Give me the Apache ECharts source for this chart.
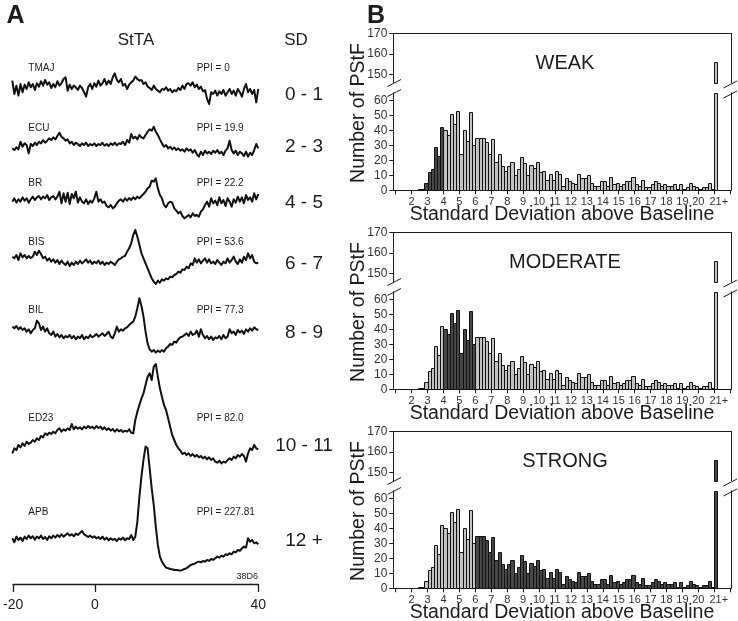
<!DOCTYPE html>
<html><head><meta charset="utf-8">
<script src="https://cdn.jsdelivr.net/npm/echarts@6/dist/echarts.min.js"></script>
<style>html,body{margin:0;padding:0;background:#fff}#c{width:738px;height:621px}</style>
</head><body><div id="c"></div>
<script>
// ---------------- DATA ----------------
// Panel A: spike-triggered averages, amplitude (arbitrary units, up = positive), sampled every 0.5 ms from -20 to 40 ms
const timeStartMs = -20, timeStepMs = 0.5;
const traceNames = ['TMAJ','ECU','BR','BIS','BIL','ED23','APB'];
const ppiLabels = ['PPI = 0','PPI = 19.9','PPI = 22.2','PPI = 53.6','PPI = 77.3','PPI = 82.0','PPI = 227.81'];
const sdGroupLabels = ['0 - 1','2 - 3','4 - 5','6 - 7','8 - 9','10 - 11','12 +'];
const timeTickValues = [-20, 0, 40];
const tmaj = [20,-20,5,-25,10,-15,8,-5,15,0, 10,-8,12,2,18,5,22,8,15,-2, 10,0,18,5,12,25,30,-10,8,-5,
 5,0,-8,5,-2,-15,-28,0,10,-5, 12,2,20,5,12,25,8,20,10,30, 42,22,15,25,5,10,-5,8,15,20,
 32,25,20,22,10,15,2,-2,-8,5, -5,-10,-15,-5,-8,0,-10,-5,-15,-8, -12,-2,-8,5,-5,10,12,5,15,0,
 8,-5,2,-12,-8,-35,-50,-15,-20,-10, -25,-12,-20,-8,-25,-15,-5,-20,-10,-25, -5,-15,-28,-5,10,-15,-5,-20,-8,-45, -5];
const ecu = [-5,-10,-2,-8,15,0,10,5,-20,8, 2,12,5,15,10,20,12,18,25,20, 28,22,32,42,30,25,18,22,10,15,
 5,12,8,2,10,5,12,2,8,4, 10,2,8,5,12,3,8,2,10,5, 12,4,10,8,15,5,20,12,38,25,
 30,22,35,28,25,35,45,52,48,60, 45,35,22,10,0,5,-5,0,-8,-2, -10,-5,-12,-8,-15,-5,-12,-8,-18,-10,
 -22,-30,-15,-25,-12,-20,-15,-22,-12,-18, -10,-20,-15,-25,-12,-5,18,-10,-20,-12, -25,-15,-20,-28,-15,-30,-18,-25,-10,8, -5];
const br = [-5,5,-8,2,-5,8,-2,5,-8,2, 10,0,8,12,2,10,5,15,0,8, 12,2,10,25,-10,20,-5,22,-12,18,
 5,25,-8,8,-5,-10,2,-12,-2,-8, 5,25,-5,2,-8,-5,-18,-22,-15,-25, -20,-10,-2,2,-5,5,-2,6,0,8,
 2,10,5,12,18,25,35,40,58,55, 65,35,15,5,-15,-22,-10,-5,-8,-25, -32,-40,-35,-48,-55,-50,-45,-52,-40,-48,
 -45,-50,-35,-28,-15,-5,-20,5,-10,-2, -15,8,-10,0,-18,5,-5,-20,2,-8, 10,-5,8,-10,15,0,8,-5,20,2, 18];
const bis = [10,5,15,0,20,8,15,5,12,6, 10,25,15,28,18,5,10,-2,5,-5, 2,-8,0,-12,-2,-10,-15,-5,-18,-8,
 -15,-5,-12,-2,-10,-5,2,-8,-2,-12, -5,-10,-2,-12,-5,-15,-8,-12,-5,-10, -15,-5,2,5,10,12,25,35,50,75,
 90,70,45,20,5,-10,-25,-40,-55,-65, -72,-62,-68,-58,-62,-55,-58,-50,-52,-45, -42,-35,-38,-28,-30,-20,-25,-10,-15,5,
 -8,2,-10,-2,5,-8,2,-10,-5,-12, 0,-8,-15,-5,-10,5,-8,0,10,-5, -12,2,-8,10,0,20,5,15,-5,-10, -8];
const bil = [20,15,22,12,18,10,15,5,12,0, 10,15,38,30,10,20,5,15,0,-5, 5,-10,-2,-12,-5,-15,-8,-12,-5,-15,
 -8,-18,-10,-15,-5,-18,-10,-15,-5,-12, -8,-2,-10,-5,0,-8,-2,5,-10,-15, 0,20,5,12,8,15,18,25,30,35,
 50,75,105,82,50,5,-30,-48,-55,-50, -58,-52,-56,-50,-55,-45,-40,-32,-35,-25, -28,-18,-12,-10,-5,0,-8,5,-5,-2,
 8,-10,12,-5,-15,-8,-18,-10,-20,-12, -15,-8,-18,-5,-15,-10,12,0,5,-5, 10,2,8,-2,12,5,15,8,18,12, 10];
const ed23 = [-70,-55,-60,-45,-52,-40,-48,-35,-42,-38, -30,-35,-25,-30,-18,-22,-10,-15,-8,-12, -5,-10,0,5,-5,2,-2,5,0,18,
 2,10,4,8,2,10,5,12,6,10, 4,12,6,10,2,8,0,5,-2,3, -5,2,-4,0,-6,-2,-5,2,-8,-10,
 30,55,75,95,110,135,160,170,150,190, 198,160,125,100,75,60,35,10,-15,-30, -45,-55,-62,-72,-68,-75,-70,-78,-72,-80,
 -75,-82,-78,-85,-80,-88,-82,-90,-85,-95, -98,-92,-100,-95,-98,-90,-85,-90,-80,-85, -75,-80,-72,-78,-95,-70,-55,-60,-45,-55, -58];
const apb = [0,-12,5,-5,2,-8,5,-2,8,0, 6,-4,5,0,8,-2,4,-5,6,0, 8,2,10,4,12,5,10,15,8,12,
 6,14,10,16,22,12,8,4,8,2, 6,0,4,-2,5,-4,2,-6,0,-5, -2,-8,0,-4,2,-6,0,-2,10,-5,
 5,50,125,185,235,275,270,210,150,100, 35,-20,-55,-70,-80,-88,-90,-92,-93,-95, -95,-96,-97,-95,-92,-90,-85,-80,-78,-76,
 -72,-70,-72,-68,-70,-65,-68,-62,-65,-60, -55,-58,-52,-55,-48,-50,-45,-48,-40,-42, -35,-38,-30,-25,-28,0,-10,-5,-15,-12, -18];

// Panel B: number of PStF per 0.2-SD bin, bins starting at 2.0 up to 20.8, plus the 21+ bin
const binStartSD = 2.0, binWidthSD = 0.2;
const pstfCounts = [0,0,1,1,5, 12,14,29,23,42, 40,37,51,44,53, 24,40,33,52,30, 35,35,35,32,24,
 34,19,24,16,13, 16,19,10,14,22, 18,10,17,15,19, 12,13,7,11,7, 13,11,3,8,6,
 5,4,11,8,8, 10,5,3,3,6, 6,3,9,4,5, 3,4,6,6,9, 4,3,7,2,2,
 4,6,5,3,4, 3,3,4,1,4, 1,2,5,3,2, 1,2,2,5,1];
const overflowStartSD = 21, overflowCount = 156;
const sdTickLabels = [2,3,4,5,6,7,8,9,10,11,12,13,14,15,16,17,18,19,20,21];
const sdTickMarks = [1,2,3,4,5,6,7,8,9,10,11,12,13,14,15,16,17,18,19,20,21,22];
const panelTitles = ['WEAK','MODERATE','STRONG'];
const highlightRanges = [[0,4],[4,6],[6,100]];
const lowerYTicks = [0,10,20,30,40,50,60];
const upperYTicks = [150,160,170];

// ---------------- LAYOUT / STYLE ----------------
const FONT = "'Liberation Sans', Arial, Helvetica, sans-serif";
const INK = '#1c1c1c';
const LIGHT = '#c2c2c2', DARK = '#474747';
const grids = [], xAxes = [], yAxes = [], series = [], els = [];

function txt(x, y, s, size, opts) {
  opts = opts || {};
  els.push(Object.assign({type:'text', x:x, y:y, silent:true, style:{
    text:s, fill:INK, font:(opts.bold?'bold ':'')+size+'px '+FONT,
    textAlign:opts.align||'center', textVerticalAlign:'middle', align:opts.align||'center', verticalAlign:'middle'}},
    opts.rotation!==undefined?{rotation:opts.rotation}:{}));
}
function seg(x1,y1,x2,y2,w){ els.push({type:'line', silent:true, shape:{x1,y1,x2,y2}, style:{stroke:INK, lineWidth:w||1}}); }

// Panel A
const A_LEFT = 12.3, A_WIDTH = 246, A_UNITS_PER_PX = 3;
const traceArrays = [tmaj, ecu, br, bis, bil, ed23, apb];
const traceBaseY = [87.3, 146.7, 200, 260, 333.3, 430, 538.3];
const traceUpPx = [80, 95, 95, 95, 95, 95, 95], traceDownPx = 40;
const labelY = [68.3, 128.3, 183.3, 242.3, 310.5, 418.3, 512.7];
const sdY = [95, 147, 203, 264, 333, 446, 541];
traceArrays.forEach((arr, i) => {
  const gi = grids.length;
  grids.push({left:A_LEFT, top:traceBaseY[i]-traceUpPx[i], width:A_WIDTH, height:traceUpPx[i]+traceDownPx});
  xAxes.push({gridIndex:gi, type:'value', min:-20, max:40, show:false});
  yAxes.push({gridIndex:gi, type:'value', min:-traceDownPx*A_UNITS_PER_PX, max:traceUpPx[i]*A_UNITS_PER_PX, show:false});
  series.push({type:'line', xAxisIndex:gi, yAxisIndex:gi, symbol:'none', silent:true, animation:false, clip:false,
    data: arr.map((v,k)=>[timeStartMs + k*timeStepMs, v]),
    lineStyle:{color:'#111', width:2, join:'round'}});
  txt(28.3, labelY[i], traceNames[i], 10, {align:'left'});
  txt(196.7, labelY[i], ppiLabels[i], 10, {align:'left'});
  txt(304, sdY[i], sdGroupLabels[i], 19);
});
{
  const gi = grids.length;
  grids.push({left:A_LEFT, top:574, width:A_WIDTH, height:10});
  xAxes.push({gridIndex:gi, type:'value', min:-20, max:40, position:'bottom',
    axisLine:{show:true, lineStyle:{color:INK, width:1.3}},
    axisTick:{show:true, customValues:timeTickValues, length:8, lineStyle:{color:INK, width:1.3}},
    axisLabel:{show:true, customValues:timeTickValues, fontSize:14, color:INK, margin:14, fontFamily:FONT},
    splitLine:{show:false}});
  yAxes.push({gridIndex:gi, type:'value', min:0, max:1, show:false});
}
txt(15.5, 16, 'A', 25, {bold:true});
txt(136, 40, 'StTA', 17);
txt(296, 40, 'SD', 17);
txt(258, 577, '38D6', 9, {align:'right'});

// Panel B
const B_LEFT = 393.3, B_WIDTH = 337.7, X_MIN = 0.85, X_MAX = 22.05;
const subOffsets = [0, 199, 398];
const binItems = pstfCounts.map((c,k)=>[binStartSD + k*binWidthSD, binStartSD + (k+1)*binWidthSD, c]);
binItems.push([overflowStartSD, overflowStartSD + binWidthSD, overflowCount]);

function renderBar(params, api) {
  const x0 = api.value(0), x1 = api.value(1), v = api.value(2), dark = api.value(3);
  if (!v) return;
  const cs = params.coordSys;
  const pb = api.coord([x0, 0]), pt = api.coord([x1, v]);
  const top = Math.max(pt[1], cs.y), bottom = Math.min(pb[1], cs.y + cs.height);
  if (bottom - top <= 0.2) return;
  const xl = Math.round(pb[0]) + 0.5, xr = Math.round(pt[0]) + 0.5;
  return {type:'rect', shape:{x:xl, y:Math.round(top)+0.5, width:xr-xl, height:Math.round(bottom)-Math.round(top)},
    style:{fill: dark ? DARK : LIGHT, stroke:'#111', lineWidth:1}};
}

subOffsets.forEach((off, s) => {
  const [lo, hi] = highlightRanges[s];
  const data = binItems.map(b => [b[0], b[1], b[2], (b[0] >= lo - 1e-9 && b[0] < hi - 1e-9) ? 1 : 0]);
  // upper part (broken axis)
  let gi = grids.length;
  grids.push({left:B_LEFT, top:33.5+off, width:B_WIDTH, height:49.2});
  xAxes.push({gridIndex:gi, type:'value', min:X_MIN, max:X_MAX, position:'top',
    axisLine:{show:true, lineStyle:{color:INK, width:1}}, axisTick:{show:false}, axisLabel:{show:false}, splitLine:{show:false}});
  yAxes.push({gridIndex:gi, type:'value', min:146, max:170, position:'left',
    axisLine:{show:true, lineStyle:{color:INK, width:1}},
    axisTick:{show:true, customValues:upperYTicks, length:4, lineStyle:{color:INK}},
    axisLabel:{show:true, customValues:upperYTicks, fontSize:12, color:'#333', margin:6, fontFamily:FONT},
    splitLine:{show:false}});
  yAxes.push({gridIndex:gi, type:'value', min:146, max:170, position:'right',
    axisLine:{show:true, lineStyle:{color:INK, width:1}}, axisTick:{show:false}, axisLabel:{show:false}, splitLine:{show:false}});
  series.push({type:'custom', xAxisIndex:gi, renderItem:renderBar, data:data, silent:true, animation:false,
    encode:{x:[0,1], y:2}});
  // lower part
  gi = grids.length;
  grids.push({left:B_LEFT, top:92.8+off, width:B_WIDTH, height:97.5});
  xAxes.push({gridIndex:gi, type:'value', min:X_MIN, max:X_MAX, position:'bottom',
    axisLine:{show:true, lineStyle:{color:INK, width:1}},
    axisTick:{show:true, customValues:sdTickMarks, length:4, lineStyle:{color:INK}},
    axisLabel:{show:true, customValues:sdTickLabels, fontSize:11, color:'#333', margin:6, fontFamily:FONT,
      formatter: v => (v === overflowStartSD ? '{o|' + overflowStartSD + '+}' : String(v)),
      rich:{o:{fontSize:11, color:'#333', fontFamily:FONT, padding:[0,0,0,9]}}},
    splitLine:{show:false}});
  yAxes.push({gridIndex:gi, type:'value', min:0, max:65, position:'left',
    axisLine:{show:true, lineStyle:{color:INK, width:1}},
    axisTick:{show:true, customValues:lowerYTicks, length:4, lineStyle:{color:INK}},
    axisLabel:{show:true, customValues:lowerYTicks, fontSize:12, color:'#333', margin:6, fontFamily:FONT},
    splitLine:{show:false}});
  yAxes.push({gridIndex:gi, type:'value', min:0, max:65, position:'right',
    axisLine:{show:true, lineStyle:{color:INK, width:1}}, axisTick:{show:false}, axisLabel:{show:false}, splitLine:{show:false}});
  series.push({type:'custom', xAxisIndex:gi, renderItem:renderBar, data:data, silent:true, animation:false,
    encode:{x:[0,1], y:2}});
  // break marks
  seg(387.5, 86.5+off, 401, 79.5+off, 1);
  seg(387.5, 96.5+off, 401, 89.5+off, 1);
  seg(723.5, 88+off, 737, 81+off, 1);
  seg(723.5, 98+off, 737, 91+off, 1);
  // titles
  txt(565, 63+off, panelTitles[s], 20);
  txt(562, 215+off, 'Standard Deviation above Baseline', 19.5);
  txt(359, 113+off, 'Number of PStF', 19.5, {rotation:Math.PI/2});
});
txt(376, 16, 'B', 25, {bold:true});

const option = {
  animation:false,
  backgroundColor:'#fff',
  grid:grids, xAxis:xAxes, yAxis:yAxes, series:series,
  graphic:{elements:els}
};
// each series uses the first (left) y axis of its grid
option.series.forEach(sr => {
  const g = option.xAxis[sr.xAxisIndex].gridIndex;
  sr.yAxisIndex = option.yAxis.findIndex(a => a.gridIndex === g);
});
const chart = echarts.init(document.getElementById('c'), null, {renderer:'canvas'});
chart.setOption(option);
</script></body></html>
